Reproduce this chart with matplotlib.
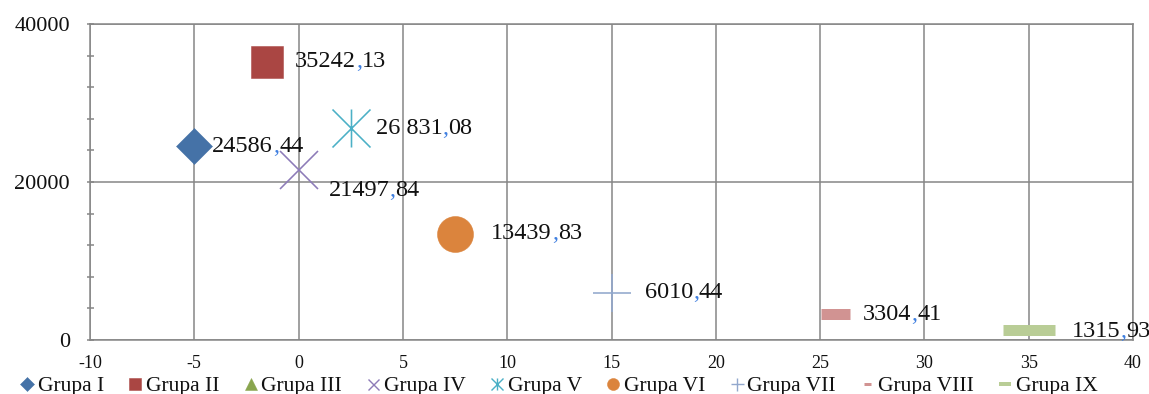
import numpy as np
import matplotlib
matplotlib.use('Agg')
import matplotlib.pyplot as plt
from matplotlib.path import Path
from matplotlib.offsetbox import TextArea, HPacker, AnnotationBbox

plt.rcParams['font.family'] = ['Liberation Serif', 'DejaVu Serif']
plt.rcParams['axes.unicode_minus'] = False

# dane grup
groups = ['Grupa I', 'Grupa II', 'Grupa III', 'Grupa IV', 'Grupa V',
          'Grupa VI', 'Grupa VII', 'Grupa VIII', 'Grupa IX']
x_vals = [-5, -1.5, np.nan, 0, 2.5, 7.5, 15, 25.7, 35]
y_vals = [24586.44, 35242.13, np.nan, 21497.84, 26831.08,
          13439.83, 6010.44, 3304.41, 1315.93]
value_labels = ['24586,44', '35242,13', '', '21497,84', '26 831,08',
                '13439,83', '6010,44', '3304,41', '1315,93']

x_ticks = list(range(-10, 41, 5))
y_ticks = [0, 20000, 40000]

# gwiazdka: pion + dwie przekątne
asterisk = Path([(0, -1), (0, 1), (-1, -1), (1, 1), (-1, 1), (1, -1)],
                [Path.MOVETO, Path.LINETO] * 3)

PX = 72 / 100  # piksele -> punkty
colors = ['#4572A7', '#AA4643', '#89A54E', '#8D7BB8', '#4BB0C6',
          '#DB843D', '#92A8CD', '#D19392', '#B9CD96']
markers = ['D', 's', '^', 'x', asterisk, 'o', '+', '_', '_']
sizes = [25, 32, 20, 38, 38, 36, 38, 29, 52]
edge_w = [0.5, 0.5, 0.5, 1.6, 1.6, 0.5, 1.6, 11, 11]
leg_sizes = [10, 12, 12, 11, 12, 12, 13, 7, 12]
leg_edge_w = [0.5, 0.5, 0.5, 1.4, 1.4, 0.5, 1.4, 3, 4]
# przesunięcie etykiet względem punktu (px)
label_dx = [18, 28, 0, 30, 25, 36, 33, 28, 43]
label_dy = [-1, 0, 0, -20, 0, 0, 0, -1, -2]

fig = plt.figure(figsize=(11.49, 3.94), dpi=100)
ax = fig.add_axes([90 / 1149, 1 - 340 / 394, 1043 / 1149, 316 / 394])

grid_c = '#868686'
for i, name in enumerate(groups):
    filled = markers[i] not in ('x', '+', '_') and markers[i] is not asterisk
    ax.plot([x_vals[i]], [y_vals[i]], ls='none', marker=markers[i],
            ms=sizes[i] * PX, mew=edge_w[i] * PX, color=colors[i],
            mec=colors[i], mfc=colors[i] if filled else 'none',
            label=name, zorder=3)

# etykiety wartości, przecinek na niebiesko
for i, text in enumerate(value_labels):
    if not text:
        continue
    whole, frac = text.split(',')
    style = dict(fontsize=17.5, color='#111111', family='Liberation Serif')
    parts = [TextArea(whole, textprops=style),
             TextArea(',', textprops=dict(style, color='#3F7FE0')),
             TextArea(frac, textprops=style)]
    box = HPacker(children=parts, pad=0, sep=0, align='baseline')
    ab = AnnotationBbox(box, (x_vals[i], y_vals[i]),
                        xybox=(label_dx[i] * PX, label_dy[i] * PX),
                        xycoords='data', boxcoords='offset points',
                        box_alignment=(0, 0.5), frameon=False, pad=0,
                        annotation_clip=False, zorder=4)
    ax.add_artist(ab)

ax.set_xlim(-10, 40)
ax.set_ylim(0, 40000)
ax.set_xticks(x_ticks)
ax.set_yticks(y_ticks)
ax.set_yticks(np.arange(0, 40001, 4000), minor=True)
ax.grid(which='major', color=grid_c, linewidth=1.1)
ax.set_axisbelow(True)
for s in ax.spines.values():
    s.set_color(grid_c)
    s.set_linewidth(1.1)
ax.tick_params(axis='x', length=0, labelsize=13, pad=11, labelcolor='#111111')
ax.tick_params(axis='y', which='both', direction='inout', length=7 * PX,
               width=1.1, color=grid_c, labelsize=16, pad=12,
               labelcolor='#111111')

leg = fig.legend(loc='center', bbox_to_anchor=(0.486, 1 - 386 / 394),
                 ncol=9, frameon=False, fontsize=15.5, handlelength=0.7,
                 handletextpad=0.15, columnspacing=1.1, borderpad=0,
                 labelcolor='#111111')
for i, h in enumerate(leg.legend_handles):
    h.set_markersize(leg_sizes[i] * PX)
    h.set_markeredgewidth(leg_edge_w[i] * PX)

fig.savefig('out.png', dpi=100)
